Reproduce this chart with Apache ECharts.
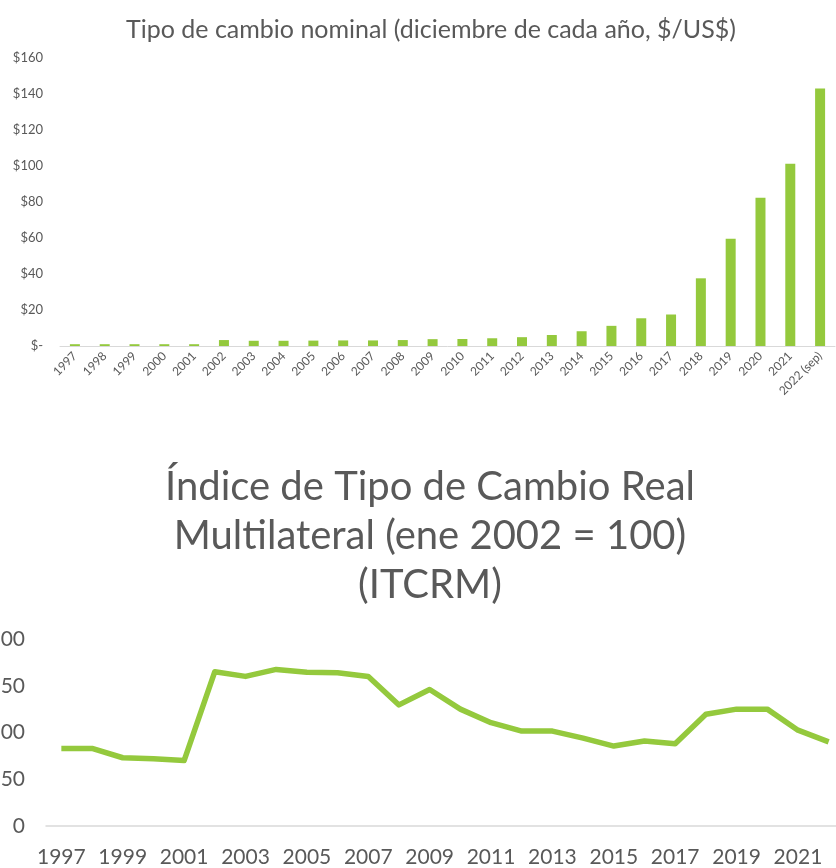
<!DOCTYPE html>
<html>
<head>
<meta charset="utf-8">
<script src="https://cdn.jsdelivr.net/npm/echarts@6/dist/echarts.min.js"></script>
<style>
  html, body { margin: 0; padding: 0; background: #fff; }
  #chart { width: 836px; height: 868px; }
</style>
</head>
<body>
<div id="chart"></div>
<script>
// tipo de cambio nominal, diciembre de cada año ($/US$)
const nominalYears = ["1997", "1998", "1999", "2000", "2001", "2002", "2003", "2004", "2005", "2006", "2007", "2008", "2009",
  "2010", "2011", "2012", "2013", "2014", "2015", "2016", "2017", "2018", "2019", "2020", "2021", "2022 (sep)"];
const nominalValues = [1, 1, 1, 1, 1, 3.3, 2.9, 2.9, 3.0, 3.1, 3.1, 3.3, 3.8,
  3.9, 4.3, 4.9, 6.1, 8.2, 11.2, 15.4, 17.5, 37.6, 59.6, 82.4, 101.3, 143];
const nominalTicks = [0, 20, 40, 60, 80, 100, 120, 140, 160];

// ITCRM (ene 2002 = 100)
const itcrmYears = ["1997", "1998", "1999", "2000", "2001", "2002", "2003", "2004", "2005", "2006", "2007", "2008", "2009",
  "2010", "2011", "2012", "2013", "2014", "2015", "2016", "2017", "2018", "2019", "2020", "2021", "2022"];
const itcrmValues = [83, 83, 73, 72, 70, 165, 160, 167.5, 164.5, 164, 160, 129.5, 146,
  125, 110.5, 101.5, 101.5, 94, 85.5, 91, 88, 119.5, 125, 125, 102.5, 90];
const itcrmTicks = [0, 50, 100, 150, 200];

const green = "#94C93D";
const gray = "#595959";
const font = "Lato";

const chart = echarts.init(document.getElementById("chart"));
chart.setOption({
  backgroundColor: "#fff",
  animation: false,
  textStyle: { fontFamily: font },
  title: [
    {
      text: "Tipo de cambio nominal (diciembre de cada año, $/US$)",
      left: 426,
      top: 12,
      textAlign: "center",
      textStyle: { fontFamily: font, fontSize: 25, fontWeight: "normal", color: gray }
    },
    {
      text: "Índice de Tipo de Cambio Real\nMultilateral (ene 2002 = 100)\n(ITCRM)",
      left: 425,
      top: 458,
      textAlign: "center",
      textStyle: { fontFamily: font, fontSize: 40, lineHeight: 49, fontWeight: "normal", color: gray }
    }
  ],
  grid: [
    { left: 60, right: 1, top: 58, height: 288, outerBoundsMode: "none" },
    { left: 46, right: -8, top: 639, height: 187, outerBoundsMode: "none" }
  ],
  xAxis: [
    {
      gridIndex: 0,
      type: "category",
      data: nominalYears,
      axisLine: { lineStyle: { color: "#d9d9d9", width: 1 } },
      axisTick: { show: false },
      axisLabel: { rotate: 45, fontSize: 12, color: gray, margin: 8, interval: 0 }
    },
    {
      gridIndex: 1,
      type: "category",
      data: itcrmYears,
      axisLine: { lineStyle: { color: "#d9d9d9", width: 1.5 } },
      axisTick: { show: false },
      axisLabel: { fontSize: 21, color: gray, margin: 21, interval: 1 }
    }
  ],
  yAxis: [
    {
      gridIndex: 0,
      type: "value",
      min: nominalTicks[0],
      max: nominalTicks[nominalTicks.length - 1],
      interval: nominalTicks[1] - nominalTicks[0],
      axisLine: { show: false },
      axisTick: { show: false },
      splitLine: { show: false },
      axisLabel: {
        fontSize: 13,
        color: gray,
        margin: 17,
        formatter: v => (v === 0 ? "$-" : "$" + v)
      }
    },
    {
      gridIndex: 1,
      type: "value",
      min: itcrmTicks[0],
      max: itcrmTicks[itcrmTicks.length - 1],
      interval: itcrmTicks[1] - itcrmTicks[0],
      axisLine: { show: false },
      axisTick: { show: false },
      splitLine: { show: false },
      axisLabel: { fontSize: 21, color: gray, margin: 21 }
    }
  ],
  series: [
    {
      type: "bar",
      xAxisIndex: 0,
      yAxisIndex: 0,
      data: nominalValues,
      barWidth: 10,
      itemStyle: { color: green }
    },
    {
      type: "line",
      xAxisIndex: 1,
      yAxisIndex: 1,
      data: itcrmValues,
      symbol: "none",
      lineStyle: { color: green, width: 5.5, join: "round" }
    }
  ]
});
</script>
</body>
</html>
